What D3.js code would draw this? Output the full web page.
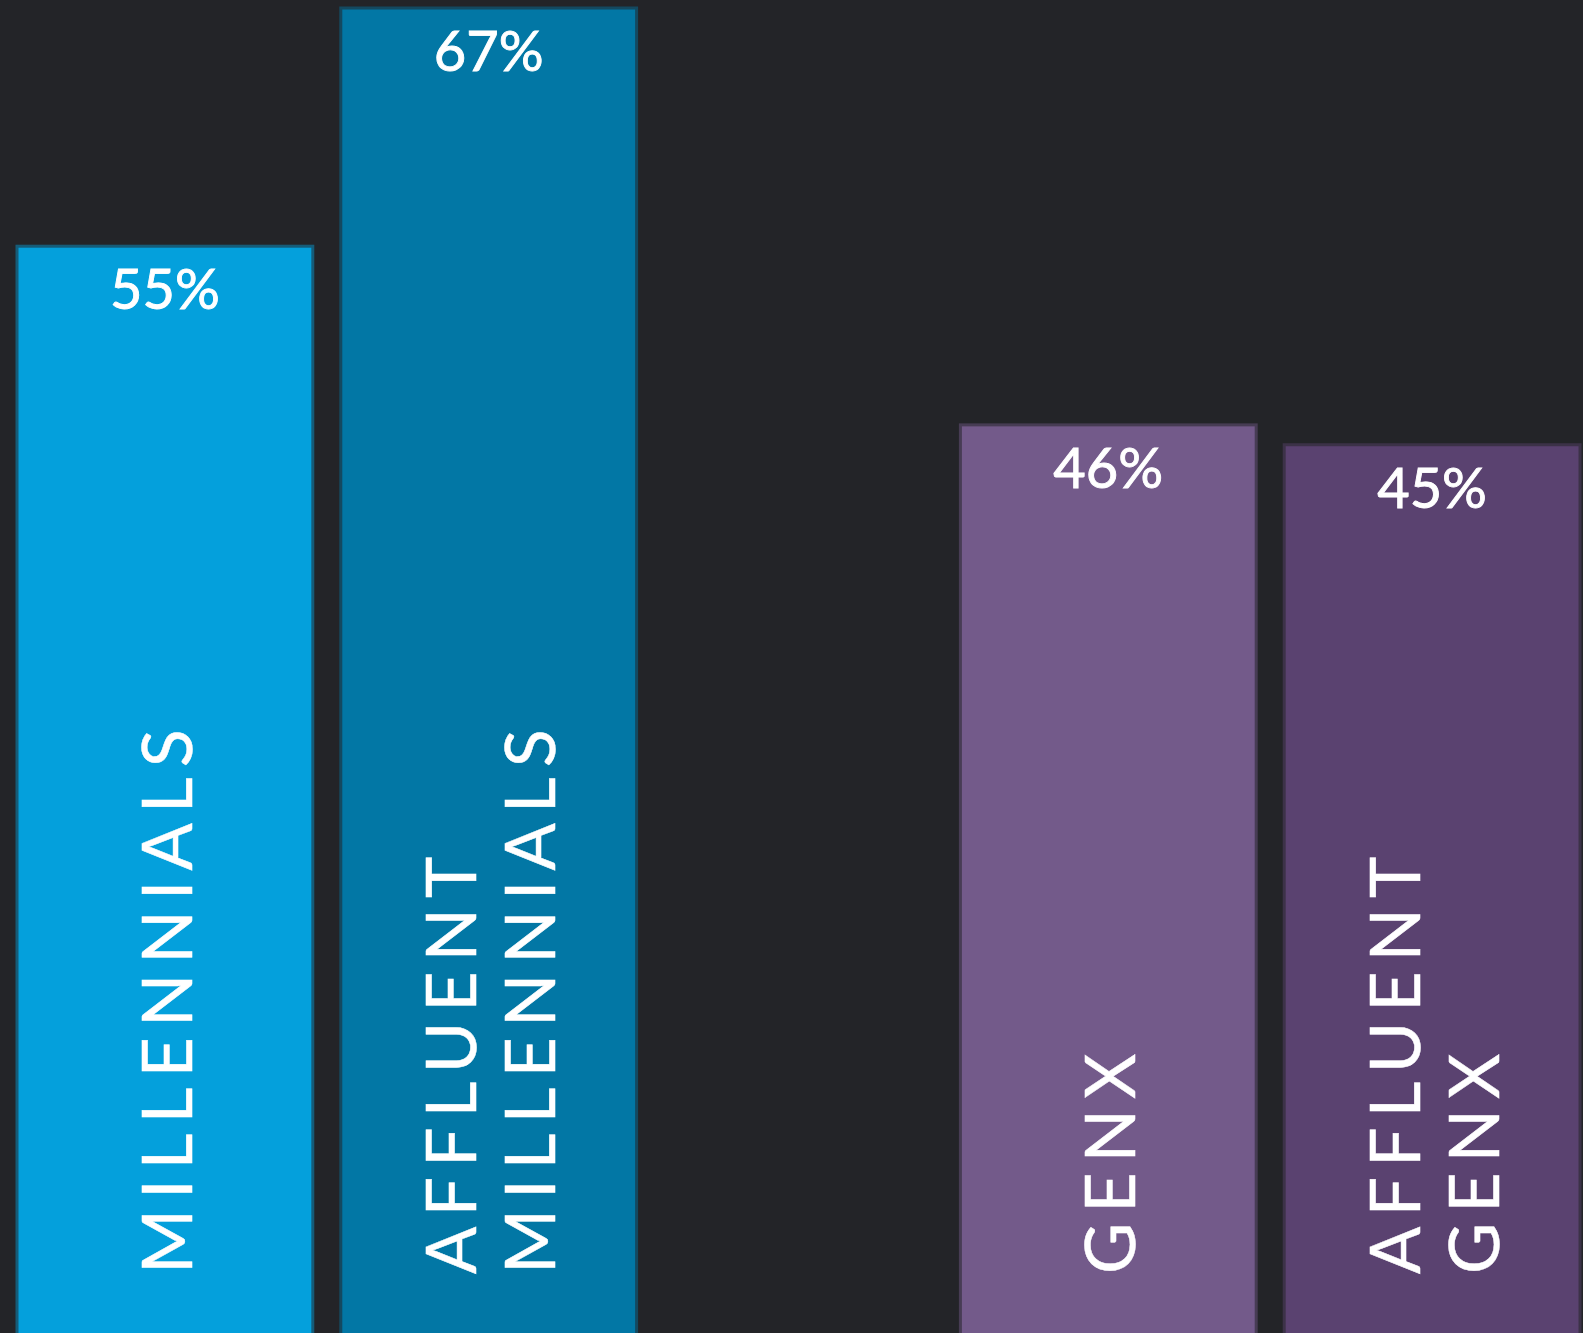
<!DOCTYPE html>
<html>
<head>
<meta charset="utf-8">
<script src="https://cdn.jsdelivr.net/npm/d3@7"></script>
<style>
  html, body { margin: 0; padding: 0; background: #232428; overflow: hidden; }
  svg { display: block; }
</style>
</head>
<body>
<svg id="chart" width="1583" height="1333"></svg>
<script>
// ---- data ----
const groups = ["Millennials", "GenX"];
const segments = ["All", "Affluent"];
const categories = ["MILLENNIALS", "AFFLUENT MILLENNIALS", "GENX", "AFFLUENT GENX"];
const categoryGroup = ["Millennials", "Millennials", "GenX", "GenX"];
const categorySegment = ["All", "Affluent", "All", "Affluent"];
const values = [55, 67, 46, 45];
const labelLines = [["MILLENNIALS"], ["AFFLUENT", "MILLENNIALS"], ["GENX"], ["AFFLUENT", "GENX"]];
const colors = ["#04a0dc", "#0277a5", "#735a8a", "#5a4270"];

const W = 1583, H = 1333, BG = "#232428";
const svg = d3.select("#chart");
svg.append("rect").attr("width", W).attr("height", H).attr("fill", BG);

const x0 = d3.scaleBand().domain(groups).range([17, 1580]).paddingInner(324 / 944).paddingOuter(0);
const x1 = d3.scaleBand().domain(segments).range([0, x0.bandwidth()]).paddingInner(28 / 324).paddingOuter(0);
const y = d3.scaleLinear().domain([0, 67]).range([1338, 8]);

const data = categories.map((c, i) => ({
  name: c, group: categoryGroup[i], seg: categorySegment[i],
  value: values[i], lines: labelLines[i], color: colors[i]
}));

const bars = svg.append("g").selectAll("g.bar").data(data).join("g").attr("class", "bar")
  .attr("transform", d => `translate(${x0(d.group) + x1(d.seg)},0)`);

bars.append("rect")
  .attr("x", 0)
  .attr("y", d => y(d.value))
  .attr("width", x1.bandwidth())
  .attr("height", d => y(0) - y(d.value) + 10)
  .attr("fill", d => d.color)
  .attr("stroke", d => d3.interpolateRgb(d.color, BG)(0.55))
  .attr("stroke-width", 3);

const cx = x1.bandwidth() / 2;

bars.append("text")
  .attr("x", cx)
  .attr("y", d => y(d.value) + 63)
  .attr("text-anchor", "middle")
  .attr("fill", "#ffffff")
  .attr("stroke", "#ffffff")
  .attr("stroke-width", 0.9)
  .attr("font-family", "Lato, 'Open Sans', sans-serif")
  .attr("font-size", 56)
  .attr("font-weight", 400)
  .text(d => d.value + "%");

const lineH = 79;
bars.each(function(d) {
  const g = d3.select(this);
  const n = d.lines.length;
  const t = g.append("text")
    .attr("transform", `translate(${cx + 27 - (n - 1) * lineH / 2},1274) rotate(-90)`)
    .attr("text-anchor", "start")
    .attr("fill", "#ffffff")
    .attr("stroke", "#ffffff")
    .attr("stroke-width", 0.5)
    .attr("font-family", "Lato, 'Open Sans', sans-serif")
    .attr("font-size", 70)
    .attr("font-weight", 400)
    .attr("letter-spacing", "10px");
  d.lines.forEach((ln, i) => {
    t.append("tspan").attr("x", 0).attr("y", i * lineH).text(ln);
  });
});
</script>
</body>
</html>
